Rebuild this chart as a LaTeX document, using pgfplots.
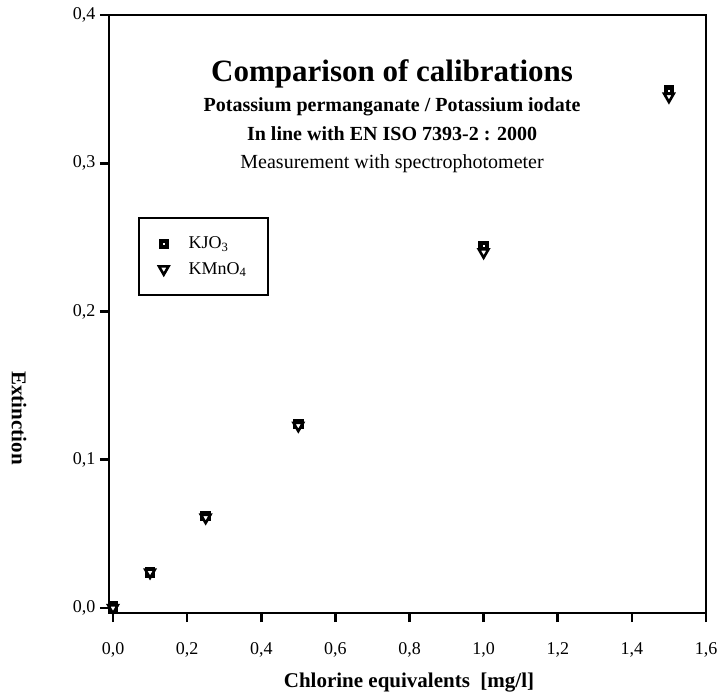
\documentclass[border=0pt]{standalone}
\usepackage{fontspec}
\setmainfont{Liberation Serif}
\usepackage{pgfplots}
\pgfplotsset{compat=1.18}

% filled square with a small white hole, as in the original
\pgfdeclareplotmark{holesquare}{%
  \pgfpathrectanglecorners{\pgfpoint{-\pgfplotmarksize}{-\pgfplotmarksize}}{\pgfpoint{\pgfplotmarksize}{\pgfplotmarksize}}%
  \pgfusepathqfillstroke
  \begin{pgfscope}
    \pgfsetfillcolor{white}%
    \pgfpathrectanglecorners{\pgfpoint{-0.2\pgfplotmarksize}{-0.2\pgfplotmarksize}}{\pgfpoint{0.2\pgfplotmarksize}{0.2\pgfplotmarksize}}%
    \pgfusepathqfill
  \end{pgfscope}
}

\begin{document}
\begin{tikzpicture}
\path[use as bounding box] (-109pt,-84pt) rectangle (614pt,613pt);
\begin{axis}[
    scale only axis,
    width=597pt, height=598pt,
    xmin=-0.0108, xmax=1.6,
    ymin=-0.0034, ymax=0.4,
    line width=2.6pt,
    axis line style={line width=2.6pt},
    xtick={0,0.2,0.4,0.6,0.8,1.0,1.2,1.4,1.6},
    ytick={0,0.1,0.2,0.3,0.4},
    tick align=outside, tick pos=left,
    major tick length=9pt,
    tick style={black, line width=2.6pt},
    tick label style={font=\fontsize{18}{20}\selectfont},
    xticklabel style={yshift=-16pt},
    /pgf/number format/.cd, use comma, fixed, fixed zerofill, precision=1, assume math mode=true,
    /pgfplots/.cd,
    xlabel={Chlorine equivalents\ \ [mg/l]},
    xlabel style={at={(rel axis cs:0.5025,-0.117)}, anchor=center, font=\bfseries\fontsize{21}{24}\selectfont},
    ylabel={Extinction},
    ylabel style={at={(rel axis cs:-0.1508,0.326)}, anchor=center, rotate=180, font=\bfseries\fontsize{21}{24}\selectfont},
    legend style={at={(rel axis cs:0.0486,0.6622)}, anchor=north west, draw=black, line width=2pt,
        inner xsep=20pt, inner ysep=17pt, row sep=8pt,
        font=\fontsize{18}{20}\selectfont,
        /tikz/every odd column/.append style={column sep=18pt}},
    legend cell align=left,
]
% KJO3
\addplot[only marks, mark=holesquare, mark size=4.6pt, black, fill=black, line width=1.2pt] coordinates {
    (0,0.001) (0.1,0.024) (0.25,0.062) (0.5,0.124) (1.0,0.244) (1.5,0.349)
};
\addlegendentry{KJO\textsubscript{3}}
% KMnO4
\addplot[only marks, mark=triangle*, mark size=5.5pt, black, mark options={rotate=180, fill=white, line width=2.6pt}] coordinates {
    (0,0.000) (0.1,0.024) (0.25,0.061) (0.5,0.123) (1.0,0.240) (1.5,0.345)
};
\addlegendentry{KMnO\textsubscript{4}}

\node[font=\bfseries\fontsize{31}{34}\selectfont] at (axis cs:0.753,0.3605) {Comparison of calibrations};
\node[font=\bfseries\fontsize{20}{22}\selectfont] at (axis cs:0.753,0.3380) {Potassium permanganate / Potassium iodate};
\node[font=\bfseries\fontsize{20}{22}\selectfont] at (axis cs:0.753,0.3200) {In line with EN ISO 7393-2 : 2000};
\node[font=\fontsize{20}{22}\selectfont] at (axis cs:0.753,0.2995) {Measurement with spectrophotometer};
\end{axis}
\end{tikzpicture}
\end{document}
